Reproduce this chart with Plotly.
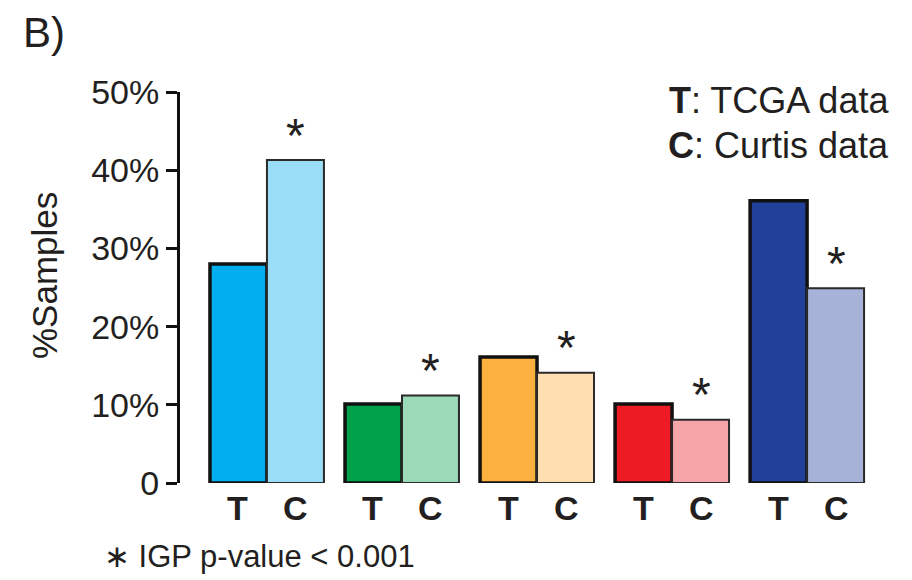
import plotly.graph_objects as go

group_ids = [0, 1, 2, 3, 4]
tcga_values = [28.0, 10.1, 16.1, 10.1, 36.1]
curtis_values = [41.3, 11.2, 14.1, 8.1, 24.9]
curtis_significant = [True, True, True, True, True]
tcga_colors = ["#00AEEF", "#00A14B", "#FBB040", "#ED1C24", "#21409A"]
curtis_colors = ["#9ADDF7", "#9CD9B8", "#FEDFB2", "#F5A5A8", "#A6B2D7"]
y_tick_values = [0, 10, 20, 30, 40, 50]
y_tick_labels = ["0", "10%", "20%", "30%", "40%", "50%"]

FONT = "Liberation Sans, Arial, sans-serif"
INK = "#231f20"

# page offset from the default 8px body margin
OFF = 8
W, H = 912, 580
L, R, T, B = 180 - OFF, 32 + OFF, 92 - OFF, 97 + OFF
pw, ph = W - L - R, H - T - B


def px(xp):
    return (xp - OFF - L) / pw


def py(yp):
    return (H - B - (yp - OFF)) / ph


fig = go.Figure()
fig.add_trace(go.Bar(
    x=group_ids, y=tcga_values, name="T",
    marker=dict(color=tcga_colors, line=dict(color="#111111", width=3.5)),
    showlegend=False, hoverinfo="skip"))
fig.add_trace(go.Bar(
    x=group_ids, y=curtis_values, name="C",
    marker=dict(color=curtis_colors, line=dict(color="#2a2a2a", width=2)),
    showlegend=False, hoverinfo="skip"))

annotations = []
for g, tv, cv, sig in zip(group_ids, tcga_values, curtis_values, curtis_significant):
    annotations.append(dict(x=g, y=0, xref="x", yref="y", text="<b>T</b>", showarrow=False,
                            xshift=-29, yshift=-25, font=dict(size=34, color=INK, family=FONT)))
    annotations.append(dict(x=g, y=0, xref="x", yref="y", text="<b>C</b>", showarrow=False,
                            xshift=29, yshift=-25, font=dict(size=34, color=INK, family=FONT)))
    if sig:
        annotations.append(dict(x=g, y=cv, xref="x", yref="y", text="*", showarrow=False,
                                xshift=29, yshift=25, font=dict(size=48, color=INK, family=FONT)))

annotations += [
    dict(x=px(22), y=py(8), xref="paper", yref="paper", xanchor="left", yanchor="top",
         text="B)", showarrow=False, borderpad=0, font=dict(size=42, family=FONT, color=INK)),
    dict(x=px(44), y=py(276), xref="paper", yref="paper", xanchor="center", yanchor="middle",
         text="%Samples", textangle=-90, showarrow=False,
         font=dict(size=35, family=FONT, color=INK)),
    dict(x=px(891), y=py(101), xref="paper", yref="paper", xanchor="right", yanchor="middle",
         text="<b>T</b>: TCGA data", showarrow=False, font=dict(size=36, family=FONT, color=INK)),
    dict(x=px(891), y=py(145), xref="paper", yref="paper", xanchor="right", yanchor="middle",
         text="<b>C</b>: Curtis data", showarrow=False, font=dict(size=36, family=FONT, color=INK)),
    dict(x=px(102), y=py(556), xref="paper", yref="paper", xanchor="left", yanchor="middle",
         text="∗ IGP p-value &lt; 0.001", showarrow=False, font=dict(size=31, family=FONT, color=INK)),
]

fig.update_layout(
    width=W, height=H,
    margin=dict(l=L, r=R, t=T, b=B),
    paper_bgcolor="white", plot_bgcolor="white",
    barmode="group", bargap=0.156, bargroupgap=0,
    font=dict(family=FONT, color=INK),
    xaxis=dict(range=[-0.644, 4.54], showticklabels=False, showgrid=False, zeroline=False,
               showline=False, ticks=""),
    yaxis=dict(range=[0, 50], tickvals=y_tick_values, ticktext=y_tick_labels,
               showgrid=False, zeroline=False, showline=True, linecolor="#111111", linewidth=3,
               ticks="outside", ticklen=11, tickwidth=3, tickcolor="#111111",
               tickfont=dict(size=34, family=FONT, color=INK)),
    annotations=annotations,
)

fig.write_html("out.html")
